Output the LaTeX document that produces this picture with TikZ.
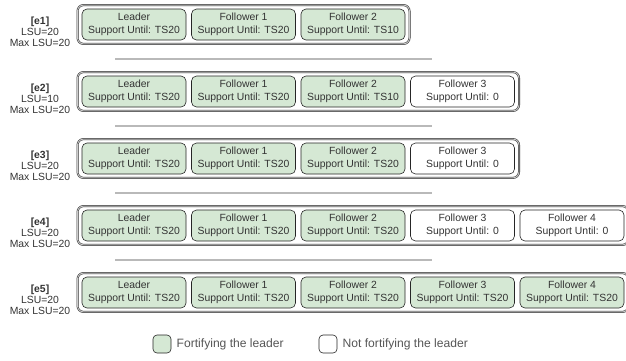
\documentclass[tikz,border=0pt]{standalone}
\usepackage{fontspec}
\setmainfont{Liberation Sans}
\usetikzlibrary{fit}
\definecolor{fortgreen}{HTML}{D5E8D4}
\definecolor{txtgray}{HTML}{333333}
\definecolor{leggray}{HTML}{555555}
\begin{document}
\begin{tikzpicture}[x=1pt,y=-1pt,
  member/.style={rectangle, rounded corners=5pt, draw=black!85, line width=0.6pt,
    minimum width=104pt, minimum height=31pt, align=center, inner sep=0pt,
    text=txtgray, font=\fontsize{10.4}{12.8}\selectfont},
  fort/.style={member, fill=fortgreen},
  notfort/.style={member, fill=white},
  groupbox/.style={rectangle, rounded corners=6pt, draw=black!80, line width=0.55pt,
    double=gray!40, double distance=0.9pt, inner xsep=4.2pt, inner ysep=3.6pt},
  rowlabel/.style={align=center, text=txtgray, inner sep=0pt,
    font=\fontsize{10.4}{11.2}\selectfont},
  sepline/.style={draw=gray!55, line width=1.4pt},
  legbox/.style={rectangle, rounded corners=4pt, draw=black!85, line width=0.6pt,
    minimum width=18pt, minimum height=18pt, inner sep=0pt},
  legtext/.style={anchor=west, text=leggray, inner sep=0pt,
    font=\fontsize{12.1}{13}\selectfont}
]
\useasboundingbox (0,0) rectangle (626,360);

% ---- row e1 ----
\node[fort] (l1) at (134,24.5) {Leader\\Support Until: TS20};
\node[fort] (a1) at (243.5,24.5) {Follower 1\\Support Until: TS20};
\node[fort] (b1) at (353,24.5) {Follower 2\\Support Until: TS10};
\node[rowlabel] (t1) at (40,32) {\textbf{[e1]}\\LSU=20\\Max LSU=20};

% ---- row e2 ----
\node[fort] (l2) at (134,91.5) {Leader\\Support Until: TS20};
\node[fort] (a2) at (243.5,91.5) {Follower 1\\Support Until: TS20};
\node[fort] (b2) at (353,91.5) {Follower 2\\Support Until: TS10};
\node[notfort] (c2) at (462.5,91.5) {Follower 3\\Support Until: 0};
\node[rowlabel] (t2) at (40,99) {\textbf{[e2]}\\LSU=10\\Max LSU=20};

% ---- row e3 ----
\node[fort] (l3) at (134,158.5) {Leader\\Support Until: TS20};
\node[fort] (a3) at (243.5,158.5) {Follower 1\\Support Until: TS20};
\node[fort] (b3) at (353,158.5) {Follower 2\\Support Until: TS20};
\node[notfort] (c3) at (462.5,158.5) {Follower 3\\Support Until: 0};
\node[rowlabel] (t3) at (40,166) {\textbf{[e3]}\\LSU=20\\Max LSU=20};

% ---- row e4 ----
\node[fort] (l4) at (134,225.5) {Leader\\Support Until: TS20};
\node[fort] (a4) at (243.5,225.5) {Follower 1\\Support Until: TS20};
\node[fort] (b4) at (353,225.5) {Follower 2\\Support Until: TS20};
\node[notfort] (c4) at (462.5,225.5) {Follower 3\\Support Until: 0};
\node[notfort] (d4) at (572,225.5) {Follower 4\\Support Until: 0};
\node[rowlabel] (t4) at (40,233) {\textbf{[e4]}\\LSU=20\\Max LSU=20};

% ---- row e5 ----
\node[fort] (l5) at (134,292.5) {Leader\\Support Until: TS20};
\node[fort] (a5) at (243.5,292.5) {Follower 1\\Support Until: TS20};
\node[fort] (b5) at (353,292.5) {Follower 2\\Support Until: TS20};
\node[fort] (c5) at (462.5,292.5) {Follower 3\\Support Until: TS20};
\node[fort] (d5) at (572,292.5) {Follower 4\\Support Until: TS20};
\node[rowlabel] (t5) at (40,300) {\textbf{[e5]}\\LSU=20\\Max LSU=20};

% ---- group boxes ----
\node[groupbox, fit=(l1)(b1)] (g1) {};
\node[groupbox, fit=(l2)(c2)] (g2) {};
\node[groupbox, fit=(l3)(c3)] (g3) {};
\node[groupbox, fit=(l4)(d4)] (g4) {};
\node[groupbox, fit=(l5)(d5)] (g5) {};

% ---- separators ----
\draw[sepline] (115,59) -- (432,59);
\draw[sepline] (115,126) -- (432,126);
\draw[sepline] (115,193) -- (432,193);
\draw[sepline] (115,260) -- (432,260);

% ---- legend ----
\node[legbox, fill=fortgreen] (k1) at (162,344) {};
\node[legtext] (k1t) at (176.5,344) {Fortifying the leader};
\node[legbox, fill=white] (k2) at (328,344) {};
\node[legtext] (k2t) at (342.5,344) {Not fortifying the leader};
\end{tikzpicture}
\end{document}
